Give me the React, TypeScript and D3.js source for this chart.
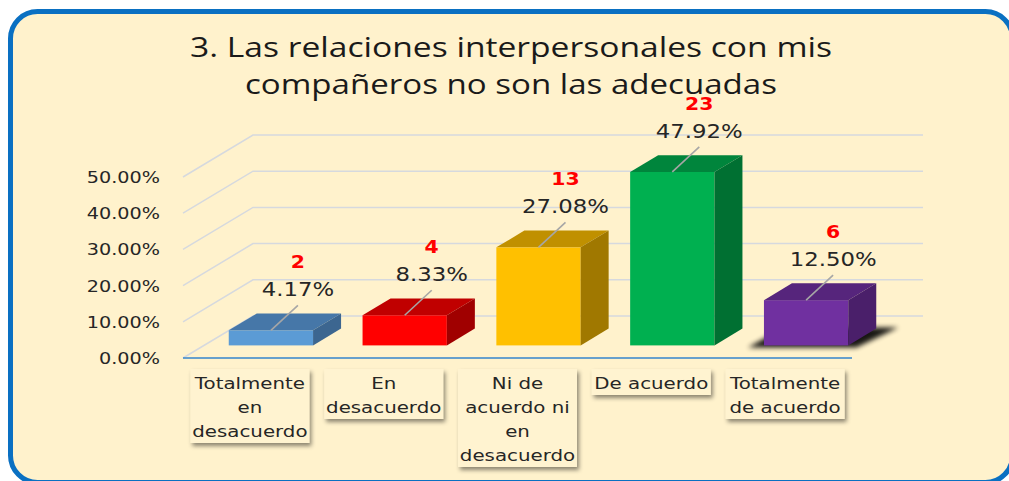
import React from "react";
import * as d3 from "d3";

const categories = [
  "Totalmente en desacuerdo",
  "En desacuerdo",
  "Ni de acuerdo ni en desacuerdo",
  "De acuerdo",
  "Totalmente de acuerdo",
];
const categoryLines = [
  ["Totalmente", "en", "desacuerdo"],
  ["En", "desacuerdo"],
  ["Ni de", "acuerdo ni", "en", "desacuerdo"],
  ["De acuerdo"],
  ["Totalmente", "de acuerdo"],
];
const counts = [2, 4, 13, 23, 6];
const percents = [0.0417, 0.0833, 0.2708, 0.4792, 0.125];
const frontColors = ["#5B9BD5", "#FF0000", "#FFC000", "#00B050", "#7030A0"];
const topColors = ["#4677A8", "#C00000", "#C09000", "#00853C", "#56257C"];
const sideColors = ["#3C6690", "#A00000", "#A07800", "#007032", "#4A1F6A"];
const titleLines = [
  "3. Las relaciones interpersonales con mis",
  "compañeros no son las adecuadas",
];

const W = 1009;
const H = 481;
const BG = "#FFF2CC";
const STRETCH = 1.2;
const TEXT_FONT = "'DejaVu Sans', Verdana, sans-serif";

export default function App() {
  const left = 183;
  const right = 852;
  const depthX = 70;
  const depthY = -42;
  const barFront = 0.3;
  const barDepth = 0.4;

  const x = d3
    .scaleBand<string>()
    .domain(categories)
    .range([left, right])
    .paddingInner(0.37)
    .paddingOuter(0.185);
  const y = d3.scaleLinear().domain([0, 0.5]).range([358, 177]);
  const ticks = y.ticks(5);
  const fmt = d3.format(".2%");

  const fdx = depthX * barFront;
  const fdy = depthY * barFront;
  const bdx = depthX * barDepth;
  const bdy = depthY * barDepth;
  const bw = x.bandwidth();
  const step = x.step();

  return (
    <svg
      width={W}
      height={H}
      style={{ position: "absolute", left: 0, top: 0 }}
      xmlns="http://www.w3.org/2000/svg"
    >
      <defs>
        <filter id="boxShadow" x="-20%" y="-20%" width="150%" height="150%">
          <feDropShadow dx="2" dy="3" stdDeviation="2" floodColor="#000" floodOpacity="0.45" />
        </filter>
        <filter id="blur" x="-30%" y="-100%" width="160%" height="300%">
          <feGaussianBlur stdDeviation="2.5" />
        </filter>
      </defs>
      <rect x={0} y={0} width={W} height={H} fill="#FFFFFF" />
      <rect
        x={10.5}
        y={11.5}
        width={1002}
        height={471}
        rx={27}
        ry={27}
        fill={BG}
        stroke="#0A70C2"
        strokeWidth={5}
      />

      {/* Title */}
      {titleLines.map((t, i) => (
        <text
          key={i}
          x={511}
          y={57 + i * 37}
          textAnchor="middle"
          fontFamily="'Open Sans', 'Noto Sans', sans-serif"
          fontSize={27}
          fill="#1A1A1A"
          textLength={i === 0 ? 642 : 532}
          lengthAdjust="spacingAndGlyphs"
        >
          {t}
        </text>
      ))}

      {/* Gridlines: left wall + back wall */}
      {ticks.map((t) => {
        const yf = y(t);
        const pts = [
          [left, yf],
          [left + depthX, yf + depthY],
          [923, yf + depthY],
        ];
        return (
          <polyline
            key={t}
            points={pts.map((p) => p.join(",")).join(" ")}
            fill="none"
            stroke="#D6D9DE"
            strokeWidth={1.5}
          />
        );
      })}

      {/* Y axis labels */}
      {ticks.map((t) => (
        <text
          key={t}
          transform={`translate(160,${y(t) + 6}) scale(${STRETCH},1)`}
          textAnchor="end"
          fontFamily={TEXT_FONT}
          fontSize={16}
          fill="#262626"
        >
          {fmt(t)}
        </text>
      ))}

      {/* Front axis line */}
      <line x1={left} x2={right} y1={y(0)} y2={y(0)} stroke="#3585CC" strokeWidth={1.6} />

      {/* Bars */}
      {categories.map((c, i) => {
        const x0 = (x(c) as number) + fdx;
        const x1 = x0 + bw;
        const yb = y(0) + fdy;
        const yt = y(percents[i]) + fdy;
        const top = [
          [x0, yt],
          [x1, yt],
          [x1 + bdx, yt + bdy],
          [x0 + bdx, yt + bdy],
        ];
        const side = [
          [x1, yt],
          [x1 + bdx, yt + bdy],
          [x1 + bdx, yb + bdy],
          [x1, yb],
        ];
        const shadow =
          i === categories.length - 1
            ? [
                [x0 - 16, yb + 2],
                [x1 + 8, yb + 2],
                [x1 + bdx + 22, yb + bdy - 1],
                [x0 + bdx - 8, yb + bdy - 1],
              ]
            : null;
        return (
          <g key={c}>
            {shadow && (
              <polygon
                points={shadow.map((p) => p.join(",")).join(" ")}
                fill="#000"
                opacity={0.9}
                filter="url(#blur)"
              />
            )}
            <rect x={x0} y={yt} width={bw} height={yb - yt} fill={frontColors[i]} />
            <polygon points={top.map((p) => p.join(",")).join(" ")} fill={topColors[i]} />
            <polygon points={side.map((p) => p.join(",")).join(" ")} fill={sideColors[i]} />
          </g>
        );
      })}

      {/* Data labels */}
      {categories.map((c, i) => {
        const cx = (x(c) as number) + fdx + bw / 2;
        const yt = y(percents[i]) + fdy;
        const lx = cx + 27;
        const ly = yt - 25;
        return (
          <g key={c}>
            <line x1={cx} y1={yt} x2={lx} y2={ly} stroke="#A6A6A6" strokeWidth={1.6} />
            <text
              transform={`translate(${lx},${ly - 16 + 7}) scale(${STRETCH},1)`}
              textAnchor="middle"
              fontFamily={TEXT_FONT}
              fontSize={19}
              fill="#262626"
            >
              {d3.format(".2%")(percents[i])}
            </text>
            <text
              transform={`translate(${lx},${ly - 44 + 7}) scale(${STRETCH},1)`}
              textAnchor="middle"
              fontFamily={TEXT_FONT}
              fontWeight="bold"
              fontSize={17}
              fill="#FF0000"
            >
              {counts[i]}
            </text>
          </g>
        );
      })}

      {/* Category label boxes */}
      {categories.map((c, i) => {
        const cx = (x(c) as number) - (step - bw) / 2 + step / 2;
        const lines = categoryLines[i];
        const boxW = 119;
        const boxH = lines.length * 24 + 2;
        return (
          <g key={c}>
            <rect
              x={cx - boxW / 2}
              y={369}
              width={boxW}
              height={boxH}
              fill="#FFF3D0"
              filter="url(#boxShadow)"
            />
            {lines.map((ln, j) => (
              <text
                key={j}
                transform={`translate(${cx},${389 + j * 24}) scale(${STRETCH},1)`}
                textAnchor="middle"
                fontFamily={TEXT_FONT}
                fontSize={16.5}
                fill="#262626"
              >
                {ln}
              </text>
            ))}
          </g>
        );
      })}
    </svg>
  );
}
